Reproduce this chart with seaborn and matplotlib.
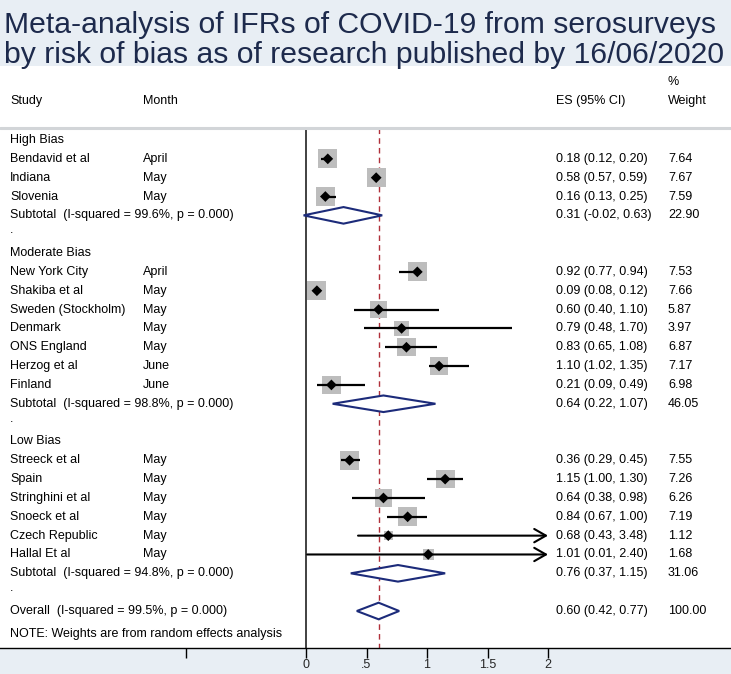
import numpy as np
import pandas as pd
import matplotlib
matplotlib.use("Agg")
import matplotlib.pyplot as plt
import seaborn as sns

# ---------------- data ----------------
groups = ["High Bias", "Moderate Bias", "Low Bias"]
studies = ["Bendavid et al", "Indiana", "Slovenia",
           "New York City", "Shakiba et al", "Sweden (Stockholm)", "Denmark",
           "ONS England", "Herzog et al", "Finland",
           "Streeck et al", "Spain", "Stringhini et al", "Snoeck et al",
           "Czech Republic", "Hallal Et al"]
study_group = [0, 0, 0, 1, 1, 1, 1, 1, 1, 1, 2, 2, 2, 2, 2, 2]
months = ["April", "May", "May", "April", "May", "May", "May", "May", "June",
          "June", "May", "May", "May", "May", "May", "May"]
es = [0.18, 0.58, 0.16, 0.92, 0.09, 0.60, 0.79, 0.83, 1.10, 0.21,
      0.36, 1.15, 0.64, 0.84, 0.68, 1.01]
ci_lo = [0.12, 0.57, 0.13, 0.77, 0.08, 0.40, 0.48, 0.65, 1.02, 0.09,
         0.29, 1.00, 0.38, 0.67, 0.43, 0.01]
ci_hi = [0.20, 0.59, 0.25, 0.94, 0.12, 1.10, 1.70, 1.08, 1.35, 0.49,
         0.45, 1.30, 0.98, 1.00, 3.48, 2.40]
weights = [7.64, 7.67, 7.59, 7.53, 7.66, 5.87, 3.97, 6.87, 7.17, 6.98,
           7.55, 7.26, 6.26, 7.19, 1.12, 1.68]

sub_es = [0.31, 0.64, 0.76]
sub_lo = [-0.02, 0.22, 0.37]
sub_hi = [0.63, 1.07, 1.15]
sub_w = [22.90, 46.05, 31.06]
sub_isq = ["99.6%", "98.8%", "94.8%"]

overall_es, overall_lo, overall_hi, overall_w, overall_isq = 0.60, 0.42, 0.77, 100.00, "99.5%"

xticks = [0, 0.5, 1, 1.5, 2]
xtick_labels = ["0", ".5", "1", "1.5", "2"]
title = "Meta-analysis of IFRs of COVID-19 from serosurveys\nby risk of bias as of research published by 16/06/2020"

# ---------------- style ----------------
sns.set_theme(style="white")
plt.rcParams["font.family"] = ["Liberation Sans", "DejaVu Sans"]

BG = "#e8eef4"
NAVY = "#1c2b7a"
TXT = 9.0

W, H = 731, 674
fig = plt.figure(figsize=(W / 100, H / 100), dpi=100, facecolor=BG)

px_unit = 121.0
x0_px = 306.0
ax_top_px, ax_bot_px = 66, 648
ax = fig.add_axes([0, (H - ax_bot_px) / H, 1, (ax_bot_px - ax_top_px) / H])
ax.set_facecolor("white")
ax.set_xlim(-x0_px / px_unit, (W - x0_px) / px_unit)

row0_px, row_step = 140.0, 18.84
def px2row(p):
    return (p - row0_px) / row_step
ax.set_ylim(px2row(ax_bot_px), px2row(ax_top_px))

# ---------------- build rows ----------------
r = 0
study_rows = []
sub_rows = []
group_rows = []
dot_rows = []
for g in range(3):
    group_rows.append(r); r += 1
    for i, sg in enumerate(study_group):
        if sg == g:
            study_rows.append(r); r += 1
    sub_rows.append(r); r += 1
    dot_rows.append(r); r += 1
overall_row = r
note_row = r + 1.2

df = pd.DataFrame({"study": studies, "month": months, "es": es, "lo": ci_lo,
                   "hi": ci_hi, "w": weights, "row": study_rows})
# box side (px) grows with sqrt(weight), plus a small minimum as in the original
df["box_area"] = (3.4 + 5.7 * np.sqrt(df["w"])) ** 2

# reference lines
line_top = px2row(128)
ax.plot([0, 0], [line_top, px2row(ax_bot_px)], color="#333333", lw=1.3, zorder=1, solid_capstyle="butt")
ax.plot([overall_es, overall_es], [line_top, px2row(ax_bot_px)], color="#b0303a",
        lw=1.0, ls=(0, (4, 3)), zorder=1)

# header separator line
trans_axx = ax.get_yaxis_transform()
ax.plot([0, 1], [line_top, line_top], transform=trans_axx, color="#d2d5d8", lw=2.2, clip_on=False)

# weight squares
amax = df["box_area"].max()
smax = amax * 0.72 ** 2
sns.scatterplot(data=df, x="es", y="row", size="box_area", sizes=(0, smax),
                size_norm=(0, amax), marker="s", color="#bdbdbd",
                edgecolor="none", linewidth=0, legend=False, ax=ax, zorder=2)

# CI lines (arrows when beyond plot max)
xmax_plot = 2.0
for _, d in df.iterrows():
    if d.hi > xmax_plot:
        ax.annotate("", xy=(xmax_plot, d.row), xytext=(d.lo, d.row),
                    arrowprops=dict(arrowstyle="->,head_length=0.7,head_width=0.4",
                                    lw=1.5, color="black", shrinkA=0, shrinkB=0),
                    zorder=3)
    else:
        ax.plot([d.lo, d.hi], [d.row, d.row], color="black", lw=1.6, zorder=3,
                solid_capstyle="butt")

# point estimates
sns.scatterplot(data=df, x="es", y="row", marker="D", color="black", s=30,
                edgecolor="none", legend=False, ax=ax, zorder=4)

# diamonds
dh = 0.44
def diamond(c, lo, hi, y):
    ax.fill([lo, c, hi, c, lo], [y, y - dh, y, y + dh, y], facecolor="white",
            edgecolor=NAVY, lw=1.5, zorder=3)

for g in range(3):
    diamond(sub_es[g], sub_lo[g], sub_hi[g], sub_rows[g])
diamond(overall_es, overall_lo, overall_hi, overall_row)

# ---------------- text columns ----------------
X_STUDY, X_MONTH, X_ES, X_W = 10 / W, 143 / W, 556 / W, 668 / W
def put(x, y, s, **kw):
    ax.text(x, y, s, transform=trans_axx, fontsize=TXT, va="center", ha="left",
            color="black", clip_on=False, **kw)

def fmt_ci(e, l, h):
    return f"{e:.2f} ({l:.2f}, {h:.2f})"

put(X_STUDY, px2row(101), "Study")
put(X_MONTH, px2row(101), "Month")
put(X_ES, px2row(101), "ES (95% CI)")
put(X_W, px2row(82), "%")
put(X_W, px2row(101), "Weight")

for g in range(3):
    put(X_STUDY, group_rows[g], groups[g])
    put(X_STUDY, sub_rows[g], f"Subtotal  (I-squared = {sub_isq[g]}, p = 0.000)")
    put(X_ES, sub_rows[g], fmt_ci(sub_es[g], sub_lo[g], sub_hi[g]))
    put(X_W, sub_rows[g], f"{sub_w[g]:.2f}")
    put(X_STUDY, dot_rows[g] - 0.2, ".")

for _, d in df.iterrows():
    put(X_STUDY, d.row, d.study)
    put(X_MONTH, d.row, d.month)
    put(X_ES, d.row, fmt_ci(d.es, d.lo, d.hi))
    put(X_W, d.row, f"{d.w:.2f}")

put(X_STUDY, overall_row, f"Overall  (I-squared = {overall_isq}, p = 0.000)")
put(X_ES, overall_row, fmt_ci(overall_es, overall_lo, overall_hi))
put(X_W, overall_row, f"{overall_w:.2f}")
put(X_STUDY, note_row, "NOTE: Weights are from random effects analysis")

# ---------------- axis ----------------
for s in ["top", "left", "right"]:
    ax.spines[s].set_visible(False)
ax.spines["bottom"].set_color("black")
ax.spines["bottom"].set_linewidth(1.0)
ax.set_yticks([])
ax.set_xticks([-(x0_px - 186) / px_unit] + xticks)
ax.set_xticklabels([""] + xtick_labels)
ax.tick_params(axis="x", direction="out", length=7, width=1.0, color="black",
               labelsize=9, pad=1, bottom=True)
ax.set_xlabel("")
ax.set_ylabel("")

# title
fig.text(4 / W, 1 - 40 / H, title, fontsize=21.7, color="#1d2a4c", ha="left",
         va="center", linespacing=1.05)

fig.savefig("out.png", dpi=100, facecolor=BG)
